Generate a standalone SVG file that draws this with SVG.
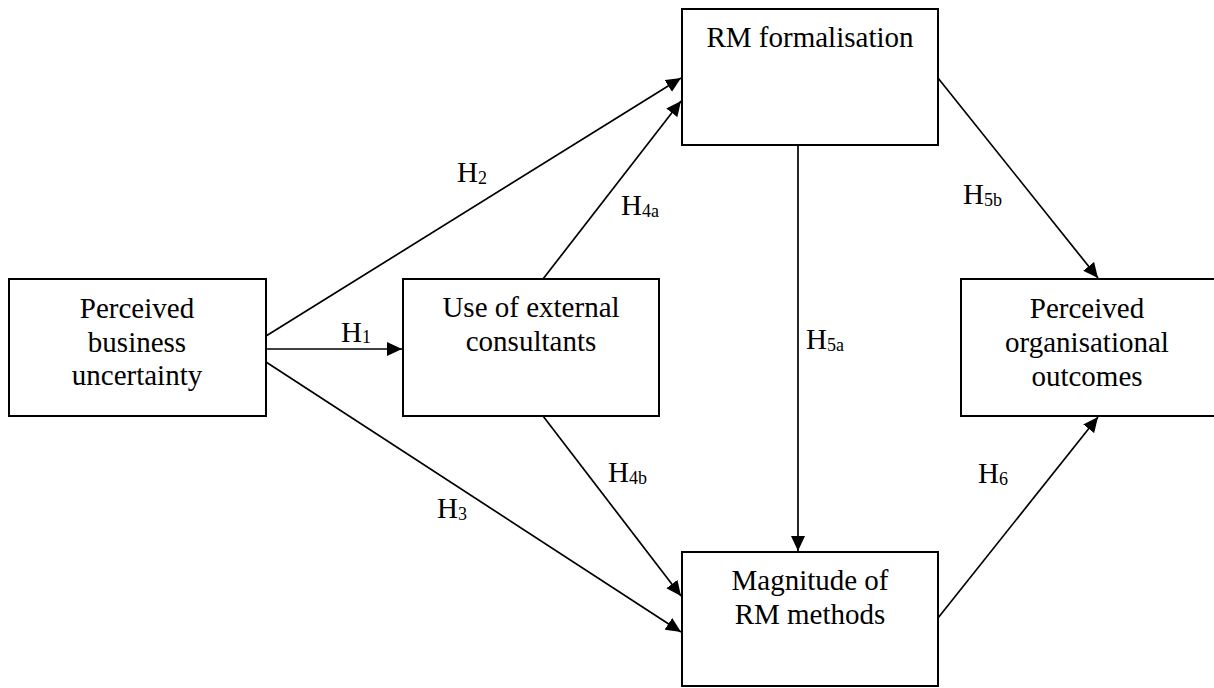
<svg xmlns="http://www.w3.org/2000/svg" width="1214" height="688" viewBox="0 0 1214 688">
<style>
.box{fill:#fff;stroke:#000;stroke-width:2}
.t{font-size:29px;fill:#000;text-anchor:middle}
.lb{font-size:29px;fill:#000}
.sub{font-size:18px}
.c{stroke:#000;stroke-width:1.7;fill:none;marker-end:url(#ah)}
</style>
<defs>
<marker id="ah" markerUnits="userSpaceOnUse" markerWidth="16" markerHeight="14" refX="15" refY="7" orient="auto">
<path d="M0,0 L15,7 L0,14 z" fill="#000"/>
</marker>
</defs>
<rect width="1214" height="688" fill="#fff"/>
<g id="connectors">
<line class="c" x1="266" y1="349" x2="402" y2="349"/>
<line class="c" x1="266" y1="336" x2="681" y2="78"/>
<line class="c" x1="266" y1="362" x2="681" y2="632"/>
<line class="c" x1="543" y1="279" x2="681" y2="101"/>
<line class="c" x1="543" y1="416" x2="681" y2="596"/>
<line class="c" x1="798" y1="145" x2="798" y2="551"/>
<line class="c" x1="938" y1="78" x2="1098" y2="278"/>
<line class="c" x1="938" y1="618" x2="1098" y2="417"/>
</g>
<g font-family="Liberation Serif, Times New Roman, Times, serif">
<g id="labels">
<text class="lb" x="341" y="342">H<tspan class="sub" dy="1">1</tspan></text>
<text class="lb" x="457" y="182">H<tspan class="sub" dy="2">2</tspan></text>
<text class="lb" x="437" y="518">H<tspan class="sub" dy="2">3</tspan></text>
<text class="lb" x="621" y="215">H<tspan class="sub" dy="2">4a</tspan></text>
<text class="lb" x="608" y="482">H<tspan class="sub" dy="2">4b</tspan></text>
<text class="lb" x="806" y="349">H<tspan class="sub" dy="2">5a</tspan></text>
<text class="lb" x="963" y="204">H<tspan class="sub" dy="2">5b</tspan></text>
<text class="lb" x="978" y="483">H<tspan class="sub" dy="2">6</tspan></text>
</g>
<g id="node-uncertainty">
<rect class="box" x="9" y="279" width="257" height="137"/>
<text class="t" x="137" y="318">Perceived<tspan x="137" y="352">business</tspan><tspan x="137" y="385">uncertainty</tspan></text>
</g>
<g id="node-consultants">
<rect class="box" x="403" y="279" width="256" height="137"/>
<text class="t" x="531" y="317">Use of external<tspan x="531" y="351">consultants</tspan></text>
</g>
<g id="node-formalisation">
<rect class="box" x="682" y="9" width="256" height="136"/>
<text class="t" x="810" y="47">RM formalisation</text>
</g>
<g id="node-magnitude">
<rect class="box" x="682" y="552" width="256" height="134"/>
<text class="t" x="810" y="590">Magnitude of<tspan x="810" y="624">RM methods</tspan></text>
</g>
<g id="node-outcomes">
<rect class="box" x="961" y="279" width="258" height="137"/>
<text class="t" x="1087" y="318">Perceived<tspan x="1087" y="352">organisational</tspan><tspan x="1087" y="386">outcomes</tspan></text>
</g>
</g>
</svg>
